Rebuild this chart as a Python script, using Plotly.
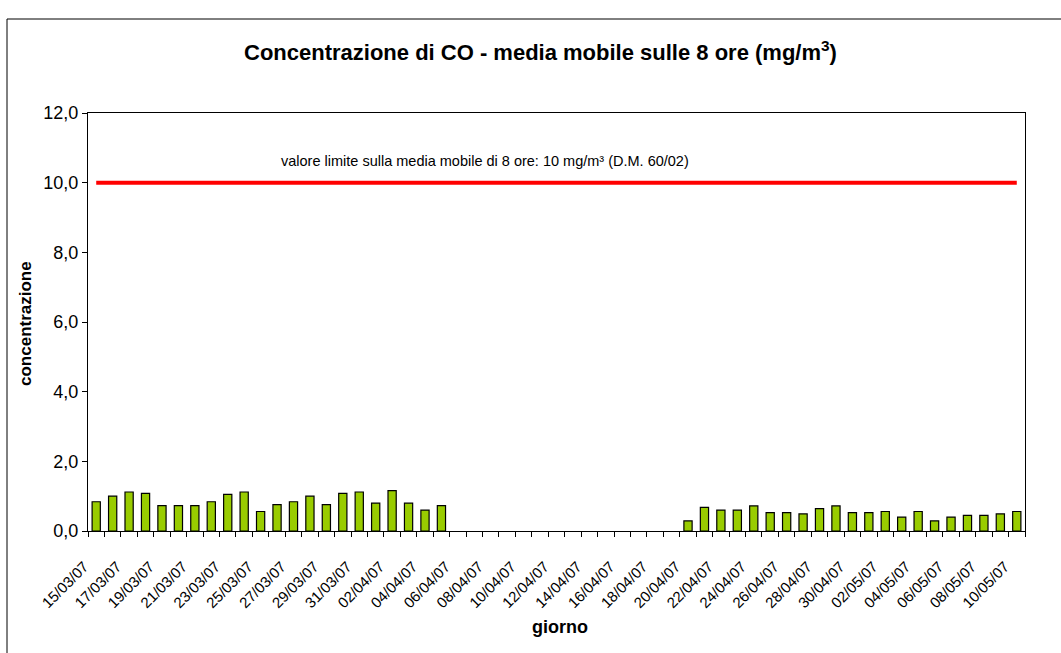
import plotly.graph_objects as go

giorni = (
    [f"{d:02d}/03/07" for d in range(15, 32)]
    + [f"{d:02d}/04/07" for d in range(1, 31)]
    + [f"{d:02d}/05/07" for d in range(1, 11)]
)

concentrazione = [
    0.84, 1.00, 1.12, 1.08, 0.73, 0.73, 0.73, 0.84, 1.05, 1.12, 0.56,   # 15/03-25/03
    0.76, 0.84, 1.00, 0.76, 1.08, 1.12, 0.80, 1.16, 0.80, 0.60, 0.73,   # 26/03-05/04
    None, None, None, None, None, None, None, None, None, None, None, None, None, None,  # 06/04-19/04
    0.29, 0.68, 0.60, 0.60, 0.72, 0.53, 0.53, 0.49, 0.64, 0.72,         # 20/04-29/04
    0.53, 0.53, 0.56, 0.40, 0.56, 0.29, 0.40, 0.45, 0.45, 0.49, 0.56,   # 30/04-10/05
]

valore_limite = [10.0] * len(giorni)

y_ticks = [0, 2, 4, 6, 8, 10, 12]

idx = list(range(len(giorni)))
label_idx = idx[::2]
label_text = giorni[::2]

fig = go.Figure()
fig.add_trace(go.Bar(
    x=idx, y=concentrazione, width=0.5,
    marker=dict(color="#99CC00", line=dict(color="#000000", width=1.2)),
    showlegend=False,
))
fig.add_trace(go.Scatter(
    x=idx, y=valore_limite, mode="lines",
    line=dict(color="#FF0000", width=4),
    showlegend=False,
))

FONT = "Liberation Sans, Arial, sans-serif"

def px_x(p):
    return (p - 88) / 937

def px_y(p):
    return (531 - p) / 418

fig.update_layout(
    width=1061, height=653,
    margin=dict(l=88, r=36, t=113, b=122),
    paper_bgcolor="white", plot_bgcolor="white",
    separators=",.",
    font=dict(family=FONT, size=12, color="black"),
    xaxis=dict(
        range=[-0.5, len(giorni) - 0.5],
        tickmode="array", tickvals=label_idx, ticktext=label_text,
        tickangle=-45, ticks="outside", ticklen=20, tickcolor="rgba(0,0,0,0)",
        ticklabelshift=-12,
        tickfont=dict(size=15),
        showline=True, linecolor="black", linewidth=1, mirror=True,
        showgrid=False, zeroline=False,
        minor=dict(tick0=-0.5, dtick=1, ticks="outside", ticklen=5, tickcolor="black", tickwidth=1),
    ),
    yaxis=dict(
        range=[0, 12], tickmode="array", tickvals=y_ticks, tickformat=".1f",
        ticks="outside", ticklen=5, tickcolor="black",
        showline=True, linecolor="black", linewidth=1, mirror=True,
        showgrid=False, zeroline=False,
        tickfont=dict(size=18),
    ),
    shapes=[dict(
        type="rect", xref="paper", yref="paper",
        x0=px_x(7), x1=px_x(1075),
        y0=px_y(670), y1=px_y(19),
        line=dict(color="black", width=1), fillcolor="rgba(0,0,0,0)", layer="below",
    )],
    annotations=[
        dict(text="<b>Concentrazione di CO - media mobile sulle 8 ore (mg/m<sup>3</sup>)</b>",
             xref="paper", yref="paper", x=px_x(540), y=px_y(51),
             showarrow=False, font=dict(size=22), xanchor="center", yanchor="middle"),
        dict(text="valore limite sulla media mobile di 8 ore: 10 mg/m³ (D.M. 60/02)",
             xref="paper", yref="paper", x=px_x(485), y=px_y(161),
             showarrow=False, font=dict(size=14.5), xanchor="center", yanchor="middle"),
        dict(text="<b>concentrazione</b>", textangle=-90,
             xref="paper", yref="paper", x=px_x(25), y=px_y(324),
             showarrow=False, font=dict(size=17), xanchor="center", yanchor="middle"),
        dict(text="<b>giorno</b>",
             xref="paper", yref="paper", x=px_x(560), y=px_y(627),
             showarrow=False, font=dict(size=18), xanchor="center", yanchor="middle"),
    ],
)

fig.write_html("out.html")
